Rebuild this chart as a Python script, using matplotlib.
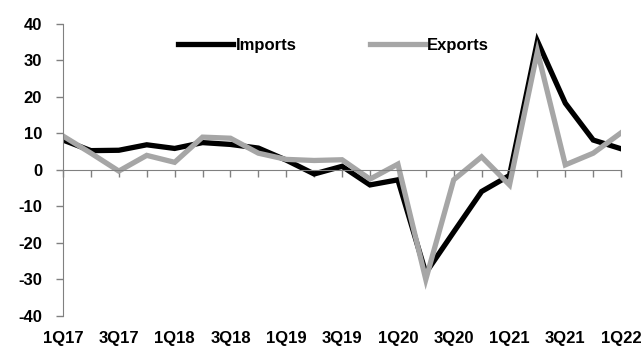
import matplotlib
matplotlib.use("Agg")
import matplotlib.pyplot as plt

quarters = ["1Q17", "2Q17", "3Q17", "4Q17", "1Q18", "2Q18", "3Q18", "4Q18",
            "1Q19", "2Q19", "3Q19", "4Q19", "1Q20", "2Q20", "3Q20", "4Q20",
            "1Q21", "2Q21", "3Q21", "4Q21", "1Q22"]
imports = [8.2, 5.3, 5.4, 6.9, 5.9, 7.5, 7.0, 6.0, 2.7, -1.1, 1.0, -4.1,
           -2.7, -28.2, -17.0, -5.9, -1.5, 35.3, 18.3, 8.2, 5.8]
exports = [9.3, 4.6, -0.3, 4.0, 2.1, 9.0, 8.7, 4.6, 2.9, 2.6, 2.8, -2.5,
           1.6, -30.0, -2.7, 3.6, -4.1, 32.5, 1.4, 4.6, 10.2]
yticks = [-40, -30, -20, -10, 0, 10, 20, 30, 40]

plt.rcParams["font.family"] = "Liberation Sans"
plt.rcParams["font.weight"] = "bold"

fig = plt.figure(figsize=(6.43, 3.53), dpi=100)
ax = fig.add_axes([0.098, 0.105, 0.868, 0.827])

x = list(range(len(quarters)))
ax.plot(x, imports, color="black", lw=3.8, label="Imports", solid_joinstyle="miter")
ax.plot(x, exports, color="#a6a6a6", lw=3.8, label="Exports", solid_joinstyle="miter")

ax.set_xlim(0, len(quarters) - 1)
ax.set_ylim(-40, 40)
ax.set_yticks(yticks)
ax.set_yticklabels([str(v) for v in yticks], fontsize=12, fontweight="bold")

# x axis crosses at zero, category labels stay at the bottom
for s in ["top", "right"]:
    ax.spines[s].set_visible(False)
ax.spines["left"].set_color("#808080")
ax.spines["bottom"].set_color("#808080")
ax.spines["bottom"].set_position(("data", 0))
ax.set_xticks(x)
ax.set_xticklabels([])
ax.tick_params(axis="x", direction="out", length=5, color="#808080", width=1)
ax.tick_params(axis="y", direction="out", length=5, color="#808080", width=1, pad=10)

for i in range(0, len(quarters), 2):
    ax.text(i, -0.05, quarters[i], transform=ax.get_xaxis_transform(),
            ha="center", va="top", fontsize=12, fontweight="bold")

ax.legend(loc="upper center", bbox_to_anchor=(0.485, 1.005), ncol=2, frameon=False,
          handlelength=3.3, handletextpad=0.15, columnspacing=4.4,
          prop={"weight": "bold", "size": 12})

fig.savefig("out.png", dpi=100)
